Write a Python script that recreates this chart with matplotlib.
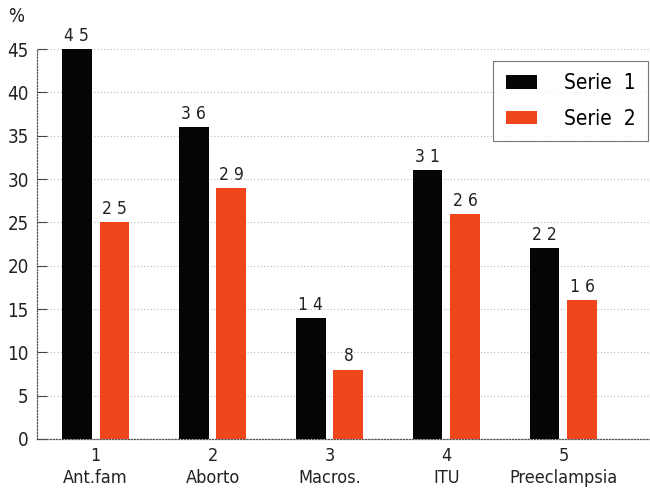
import numpy as np
import matplotlib.pyplot as plt

categories = ["1\nAnt.fam", "2\nAborto", "3\nMacros.", "4\nITU", "5\nPreeclampsia"]
serie1 = [45, 36, 14, 31, 22]
serie2 = [25, 29, 8, 26, 16]
yticks = [0, 5, 10, 15, 20, 25, 30, 35, 40, 45]

plt.rcParams['font.family'] = "DejaVu Sans"
plt.rcParams['font.stretch'] = "condensed"

black = "#050505"
red = "#f0461c"

fig = plt.figure(figsize=(6.5, 4.96), dpi=100)
ax = fig.add_axes([0.057, 0.115, 0.943, 0.786])

x = np.arange(1, len(categories) + 1)
w = 0.256
off = 0.162
b1 = ax.bar(x - off, serie1, w, color=black, label="Serie  1", zorder=3)
b2 = ax.bar(x + off, serie2, w, color=red, label="Serie  2", zorder=3)

# value labels, digits spread out a little
for bars, vals in ((b1, serie1), (b2, serie2)):
    for rect, v in zip(bars, vals):
        ax.annotate(" ".join(str(v)), (rect.get_x() + rect.get_width() / 2, v),
                    xytext=(0, 3), textcoords="offset points",
                    ha="center", va="bottom", fontsize=12.5, color="#222222")

ax.set_xlim(0.5, 5.74)
ax.set_ylim(0, 45)
ax.set_yticks(yticks)
ax.set_xticks(x)
ax.set_xticklabels(categories, fontsize=13, color="#222222", linespacing=1.25)
ax.tick_params(axis="y", direction="in", length=7, labelsize=13.5, labelcolor="#222222",
               color="#444444", pad=6)
ax.tick_params(axis="x", length=0, pad=6)

ax.grid(axis="y", linestyle=(0, (1, 2)), color="#bbbbbb", linewidth=0.8, zorder=0)
for side in ("top", "right"):
    ax.spines[side].set_visible(False)
for side in ("left", "bottom"):
    ax.spines[side].set_linestyle((0, (1, 1.5)))
    ax.spines[side].set_color("#555555")
    ax.spines[side].set_linewidth(0.9)

fig.text(0.013, 0.955, "%", fontsize=13.5, color="#222222")

leg = ax.legend(loc="upper right", bbox_to_anchor=(0.997, 0.97), fontsize=15,
                frameon=True, fancybox=False, handlelength=1.5, handleheight=0.6,
                borderpad=0.6, labelspacing=0.75, handletextpad=1.3, borderaxespad=0)
leg.get_frame().set_edgecolor("#555555")
leg.get_frame().set_linewidth(0.8)

fig.savefig("out.png", dpi=100)
